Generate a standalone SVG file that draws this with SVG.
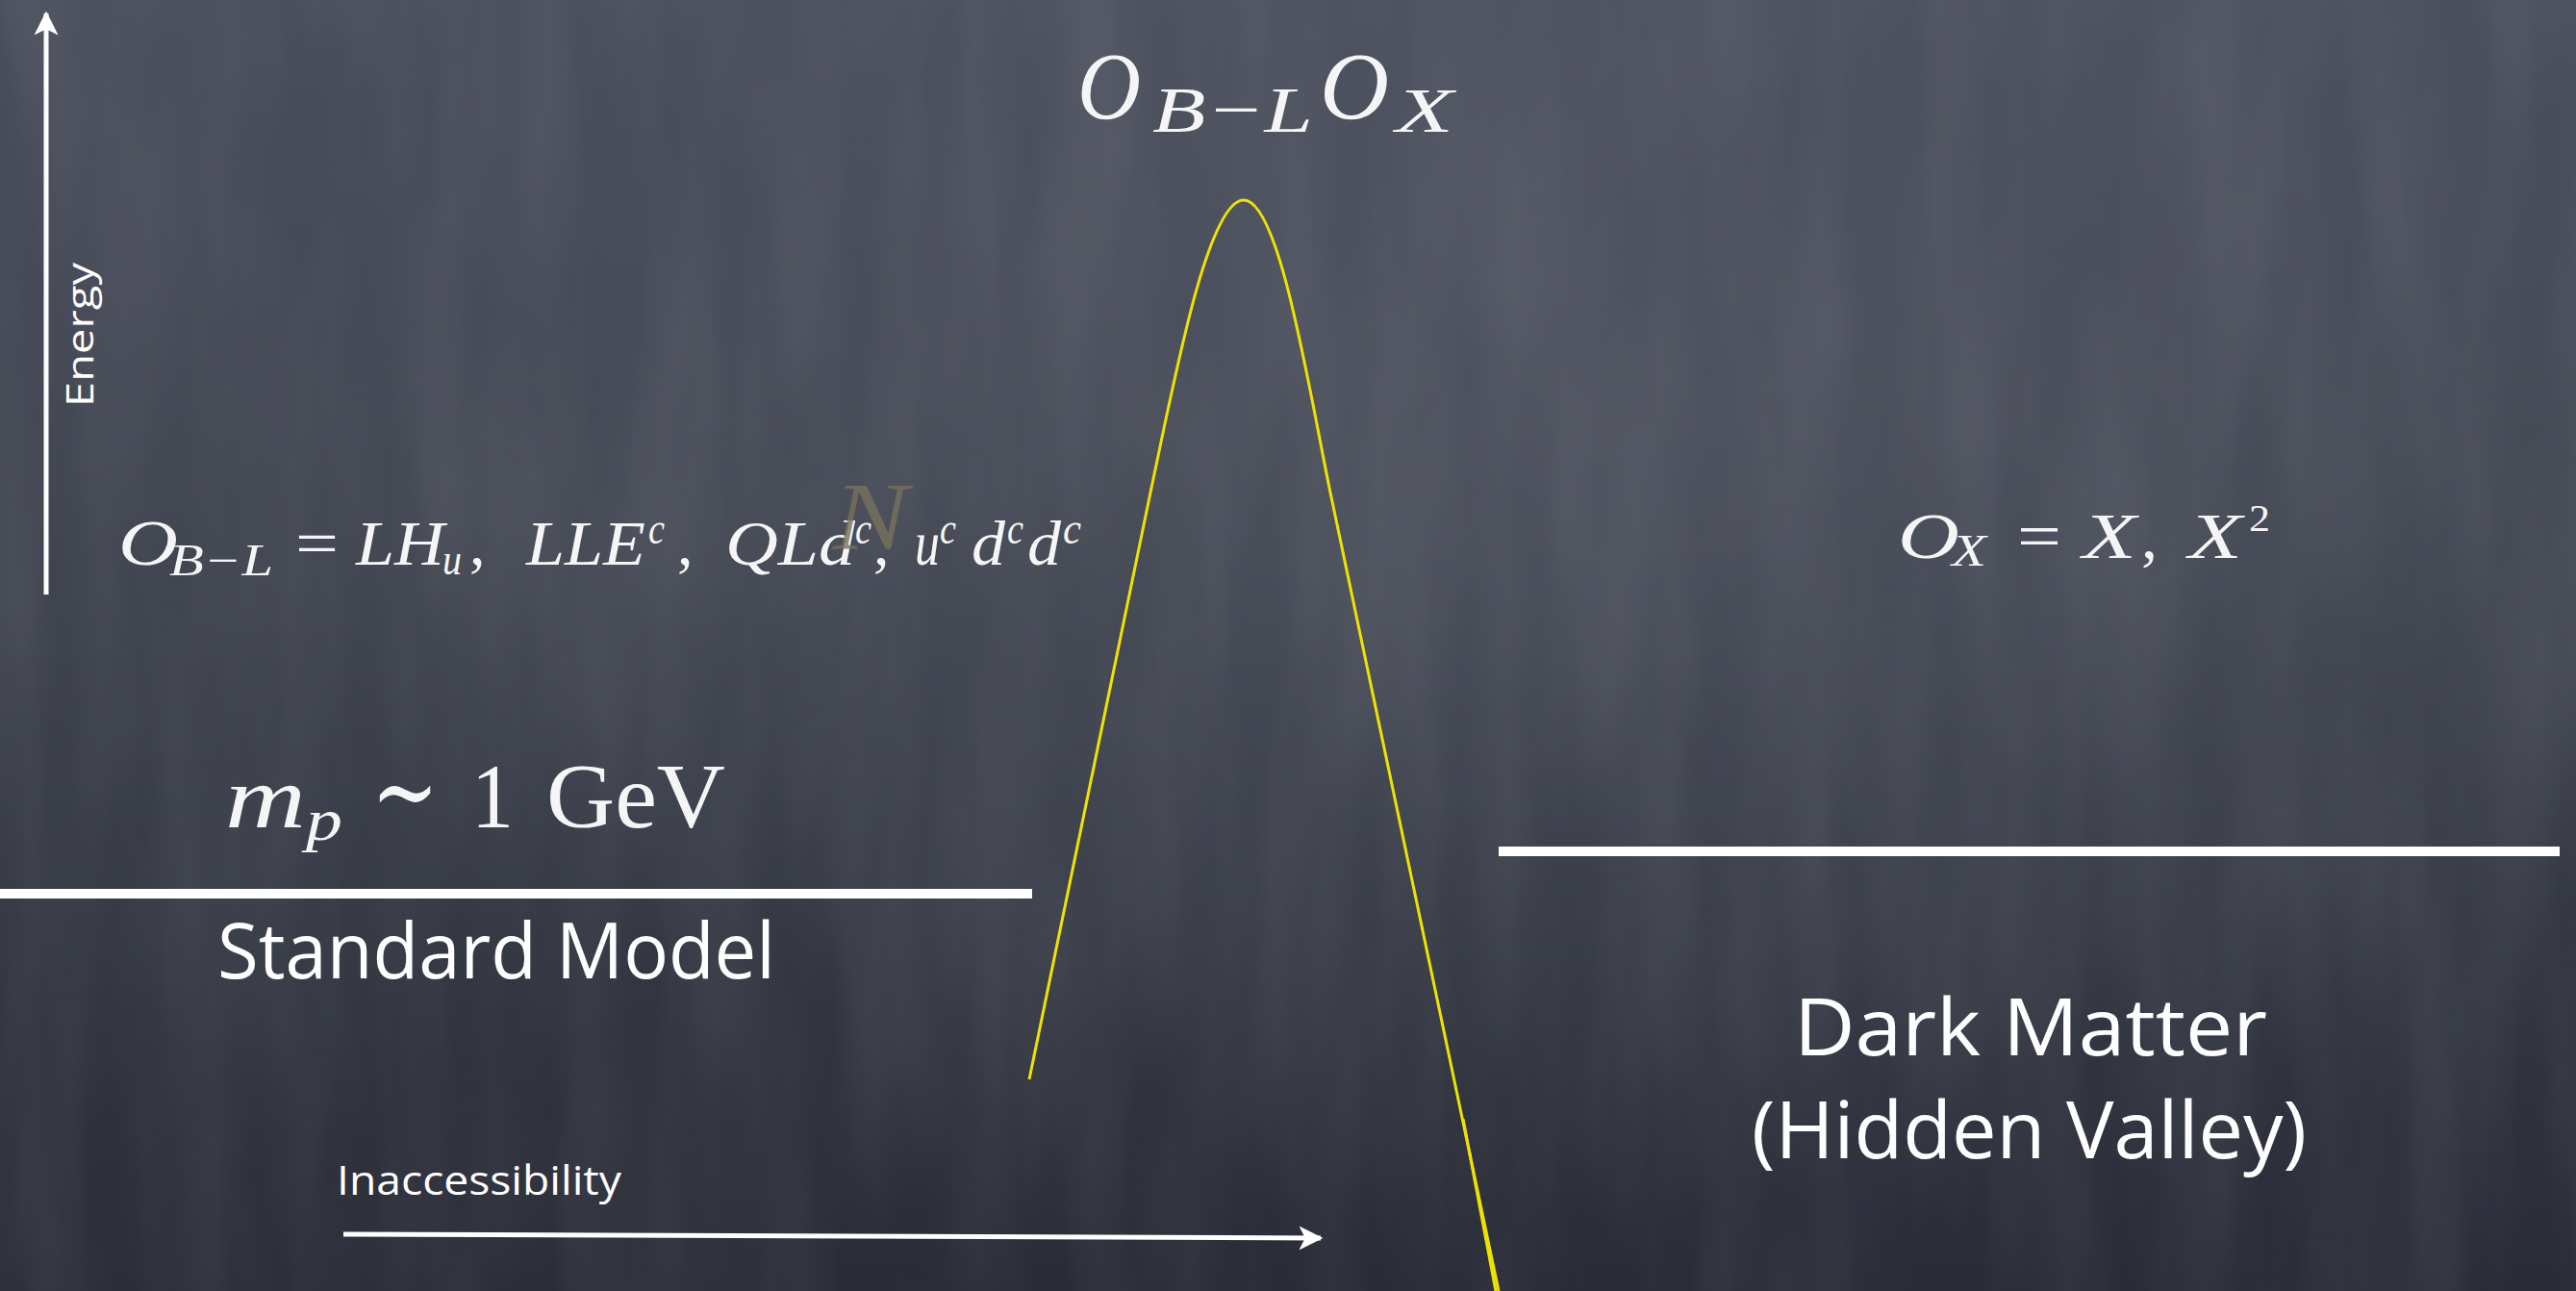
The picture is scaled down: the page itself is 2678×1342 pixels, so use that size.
<svg xmlns="http://www.w3.org/2000/svg" width="2678" height="1342" viewBox="0 0 2678 1342">
<defs>
<linearGradient id="bg" x1="0" y1="0" x2="0" y2="1">
<stop offset="0" stop-color="#4a4e5b"/>
<stop offset="0.45" stop-color="#40444f"/>
<stop offset="1" stop-color="#292c37"/>
</linearGradient>
<radialGradient id="glow" cx="0.62" cy="0.3" r="0.55">
<stop offset="0" stop-color="#5a5e6a" stop-opacity="0.5"/>
<stop offset="1" stop-color="#5a5e6a" stop-opacity="0"/>
</radialGradient>
<filter id="chalk" x="0" y="0" width="100%" height="100%">
<feTurbulence type="fractalNoise" baseFrequency="0.012 0.0025" numOctaves="3" seed="7"/>
<feColorMatrix type="matrix" values="0 0 0 0 0.6  0 0 0 0 0.62  0 0 0 0 0.68  0 0 0 0.3 -0.08"/>
</filter>
<marker id="ah" viewBox="0 0 10 10" refX="9" refY="5" markerWidth="5" markerHeight="5" orient="auto" markerUnits="strokeWidth">
<path d="M0,0 L10,5 L0,10 L2.5,5 Z" fill="#ffffff"/>
</marker>
</defs>
<style>
.m{font-family:"Liberation Serif","DejaVu Serif",serif;font-style:italic;fill:#f5f5f5}
.r{font-family:"Liberation Serif","DejaVu Serif",serif;fill:#f5f5f5}
.s{font-family:"Open Sans","Lato",sans-serif;fill:#ffffff}
.bar{stroke:#ffffff;stroke-width:10}
.axis{stroke:#ffffff;stroke-width:5;fill:none}
.curve{stroke:#eee300;stroke-width:3;fill:none}
</style>
<rect width="2678" height="1342" fill="url(#bg)"/>
<rect width="2678" height="1342" fill="url(#glow)"/>
<rect width="2678" height="1342" filter="url(#chalk)" opacity="0.45"/>

<g id="connectors">
<line id="energy-axis" class="axis" x1="48" y1="618" x2="48" y2="14" marker-end="url(#ah)"/>
<line id="inaccessibility-axis" class="axis" x1="357" y1="1283" x2="1373" y2="1287" marker-end="url(#ah)"/>
<path id="barrier" class="curve" d="M1070,1122 L1196,512 C1220,400 1255,208 1293,208 C1330,208 1360,400 1383,512 L1558,1342"/>
<path class="curve" d="M1521,1163 L1555,1342"/>
</g>

<g id="sm-level"><line class="bar" x1="0" y1="929" x2="1073" y2="929"/></g>
<g id="dm-level"><line class="bar" x1="1558" y1="885" x2="2661" y2="885"/></g>

<g id="energy-label">
<text class="s" transform="translate(97,348) rotate(-90)" text-anchor="middle" font-size="38" textLength="150" lengthAdjust="spacingAndGlyphs">Energy</text>
</g>

<g id="title-operator">
<text class="m" x="1120" y="123" font-size="100" textLength="66" lengthAdjust="spacingAndGlyphs">O</text>
<text class="m" x="1198" y="137" font-size="68" textLength="167" lengthAdjust="spacingAndGlyphs">B−L</text>
<text class="m" x="1372" y="123" font-size="100" textLength="72" lengthAdjust="spacingAndGlyphs">O</text>
<text class="m" x="1451" y="137" font-size="66" textLength="60" lengthAdjust="spacingAndGlyphs">X</text>
</g>

<g id="sm-operators">
<text class="m" x="123" y="587" font-size="68" textLength="62" lengthAdjust="spacingAndGlyphs">O</text>
<text class="m" x="176" y="598" font-size="46" textLength="108" lengthAdjust="spacingAndGlyphs">B−L</text>
<text class="r" x="307" y="587" font-size="66" textLength="45" lengthAdjust="spacingAndGlyphs">=</text>
<text class="m" x="370" y="587" font-size="66" textLength="92" lengthAdjust="spacingAndGlyphs">LH</text>
<text class="m" x="460" y="597" font-size="46" textLength="20" lengthAdjust="spacingAndGlyphs">u</text>
<text class="r" x="488" y="587" font-size="66">,</text>
<text class="m" x="547" y="587" font-size="66" textLength="124" lengthAdjust="spacingAndGlyphs">LLE</text>
<text class="m" x="674" y="565" font-size="46" textLength="17" lengthAdjust="spacingAndGlyphs">c</text>
<text class="r" x="704" y="587" font-size="66">,</text>
<text class="m" x="754" y="587" font-size="66" textLength="135" lengthAdjust="spacingAndGlyphs">QLd</text>
<text class="m" x="889" y="565" font-size="46" textLength="17" lengthAdjust="spacingAndGlyphs">c</text>
<text class="r" x="908" y="587" font-size="66">,</text>
<text class="m" x="951" y="587" font-size="66" textLength="26" lengthAdjust="spacingAndGlyphs">u</text>
<text class="m" x="977" y="565" font-size="46" textLength="17" lengthAdjust="spacingAndGlyphs">c</text>
<text class="m" x="1010" y="587" font-size="66" textLength="35" lengthAdjust="spacingAndGlyphs">d</text>
<text class="m" x="1047" y="565" font-size="46" textLength="17" lengthAdjust="spacingAndGlyphs">c</text>
<text class="m" x="1068" y="587" font-size="66" textLength="35" lengthAdjust="spacingAndGlyphs">d</text>
<text class="m" x="1105" y="565" font-size="46" textLength="19" lengthAdjust="spacingAndGlyphs">c</text>
</g>

<g id="ghost-n">
<text class="m" x="866" y="570" font-size="100" style="fill:#77715c" fill-opacity="0.8" textLength="78" lengthAdjust="spacingAndGlyphs">N</text>
</g>

<g id="dm-operators">
<text class="m" x="1973" y="580" font-size="68" textLength="64" lengthAdjust="spacingAndGlyphs">O</text>
<text class="m" x="2029" y="588" font-size="47" textLength="36" lengthAdjust="spacingAndGlyphs">X</text>
<text class="r" x="2097" y="580" font-size="68" textLength="46" lengthAdjust="spacingAndGlyphs">=</text>
<text class="m" x="2165" y="580" font-size="68" textLength="56" lengthAdjust="spacingAndGlyphs">X</text>
<text class="r" x="2226" y="580" font-size="68">,</text>
<text class="m" x="2275" y="580" font-size="68" textLength="56" lengthAdjust="spacingAndGlyphs">X</text>
<text class="r" x="2338" y="552" font-size="40" textLength="22" lengthAdjust="spacingAndGlyphs">2</text>
</g>

<g id="proton-mass">
<text class="m" x="234" y="860" font-size="92" textLength="84" lengthAdjust="spacingAndGlyphs">m</text>
<text class="m" x="318" y="873" font-size="62" textLength="38" lengthAdjust="spacingAndGlyphs">p</text>
<text class="r" x="386" y="860" font-size="110" textLength="70" lengthAdjust="spacingAndGlyphs">∼</text>
<text class="r" x="490" y="860" font-size="96" textLength="44" lengthAdjust="spacingAndGlyphs">1</text>
<text class="r" x="568" y="860" font-size="96" textLength="186" lengthAdjust="spacingAndGlyphs">GeV</text>
</g>

<g id="standard-model">
<text class="s" x="226" y="1017" font-size="80" textLength="580" lengthAdjust="spacingAndGlyphs">Standard Model</text>
</g>

<g id="dark-matter">
<text class="s" x="1865" y="1097" font-size="82" textLength="492" lengthAdjust="spacingAndGlyphs">Dark Matter</text>
<text class="s" x="1821" y="1204" font-size="82" textLength="577" lengthAdjust="spacingAndGlyphs">(Hidden Valley)</text>
</g>

<g id="inaccessibility-label">
<text class="s" x="350" y="1242" font-size="42" textLength="296" lengthAdjust="spacingAndGlyphs">Inaccessibility</text>
</g>
</svg>
